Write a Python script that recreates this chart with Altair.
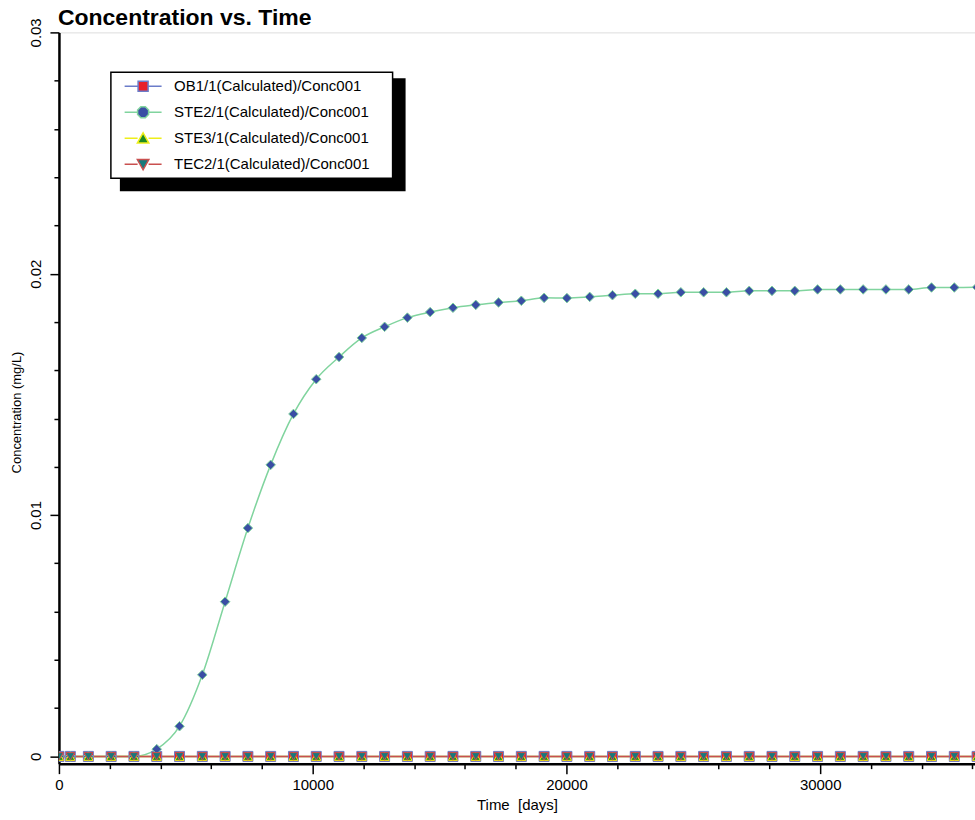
import altair as alt
import pandas as pd

# ---- series definitions -------------------------------------------------
series_names = [
    "OB1/1(Calculated)/Conc001",
    "STE2/1(Calculated)/Conc001",
    "STE3/1(Calculated)/Conc001",
    "TEC2/1(Calculated)/Conc001",
]
line_colors = ["#6b7cc9", "#80d49e", "#eeee1a", "#c9504f"]
marker_fills = ["#e8202a", "#3a4ea4", "#1d8a22", "#17797b"]
marker_shapes = ["square", "diamond", "triangle-up", "triangle-down"]
marker_sizes = [100, 75, 100, 100]

# legend glyphs: short line segment with the series marker in the middle
legend_paths = [
    "M-3.7,0L-1,0M1,0L3.7,0M-1,-1L1,-1L1,1L-1,1Z",
    "M-3.7,0L-1.1,0M1.1,0L3.7,0M-0.45,-1.1L0.45,-1.1L1.1,-0.45L1.1,0.45L0.45,1.1L-0.45,1.1L-1.1,0.45L-1.1,-0.45Z",
    "M-3.7,0L-1.1,0M1.1,0L3.7,0M0,-1.1L1.15,0.95L-1.15,0.95Z",
    "M-3.7,0L-1.1,0M1.1,0L3.7,0M-1.15,-0.95L1.15,-0.95L0,1.1Z",
]

# ---- data (time in days, concentration in mg/L) -------------------------
times = [0, 450, 1160, 2058, 2956, 3854, 4752, 5650, 6548, 7446, 8344, 9242,
         10140, 11038, 11936, 12834, 13732, 14630, 15528, 16426, 17324, 18222,
         19120, 20018, 20916, 21814, 22712, 23610, 24508, 25406, 26304, 27202,
         28100, 28998, 29896, 30794, 31692, 32590, 33488, 34386, 35284, 36182]

ob1 = [0, 0, 0, 0, 0, 0, 0, 0, 0, 0, 0, 0, 0, 0, 0, 0, 0, 0, 0, 0, 0,
       0, 0, 0, 0, 0, 0, 0, 0, 0, 0, 0, 0, 0, 0, 0, 0, 0, 0, 0, 0, 0]

ste2 = [0, 0, 0, 0, 0, 0.0003, 0.00125, 0.00338, 0.00641, 0.00946, 0.01208,
        0.01419, 0.01563, 0.01655, 0.01734, 0.0178, 0.01818, 0.01841, 0.01859,
        0.01871, 0.01881, 0.01888, 0.019, 0.01899, 0.01904, 0.01911, 0.01917,
        0.01917, 0.01923, 0.01923, 0.01923, 0.01929, 0.01929, 0.01929, 0.01935,
        0.01935, 0.01935, 0.01935, 0.01935, 0.01943, 0.01943, 0.01944]

ste3 = [0, 0, 0, 0, 0, 0, 0, 0, 0, 0, 0, 0, 0, 0, 0, 0, 0, 0, 0, 0, 0,
        0, 0, 0, 0, 0, 0, 0, 0, 0, 0, 0, 0, 0, 0, 0, 0, 0, 0, 0, 0, 0]

tec2 = [0, 0, 0, 0, 0, 0, 0, 0, 0, 0, 0, 0, 0, 0, 0, 0, 0, 0, 0, 0, 0,
        0, 0, 0, 0, 0, 0, 0, 0, 0, 0, 0, 0, 0, 0, 0, 0, 0, 0, 0, 0, 0]

x_ticks = [0, 2000, 4000, 6000, 8000, 10000, 12000, 14000, 16000, 18000,
           20000, 22000, 24000, 26000, 28000, 30000, 32000, 34000, 36000]
y_ticks = [0, 0.002, 0.004, 0.006, 0.008, 0.01, 0.012, 0.014, 0.016, 0.018,
           0.02, 0.022, 0.024, 0.026, 0.028, 0.03]

rows = []
for name, vals in zip(series_names, [ob1, ste2, ste3, tec2]):
    for t, v in zip(times, vals):
        rows.append({"t": t, "conc": v, "series": name})
df = pd.DataFrame(rows)
legend_df = pd.DataFrame({"entry": series_names})

FONT = "Liberation Sans"

x_major = "datum.value % 10000 === 0"
y_major = "abs(datum.value * 100 - round(datum.value * 100)) < 1e-6"

x_enc = alt.X(
    "t:Q",
    scale=alt.Scale(domain=[0, 36100], nice=False, zero=False),
    axis=alt.Axis(
        values=x_ticks,
        labelExpr=f"{x_major} ? format(datum.value, 'd') : ''",
        tickSize={"condition": {"test": x_major, "value": 10}, "value": 5},
        tickColor="black", tickWidth=1.5,
        domainColor="black", domainWidth=2.5,
        labelFont=FONT, labelFontSize=15, labelColor="black",
        labelPadding=4, labelFlush=False, labelOverlap=False,
        title="Time\u00a0 [days]", titleFont=FONT, titleFontSize=15,
        titleFontWeight="normal", titleColor="black", titlePadding=5,
        grid=False,
    ),
)
y_enc = alt.Y(
    "conc:Q",
    scale=alt.Scale(domain=[-0.0003, 0.03], nice=False, zero=False),
    axis=alt.Axis(
        values=y_ticks,
        labelExpr=f"{y_major} ? (datum.value === 0 ? '0' : format(datum.value, '.2f')) : ''",
        tickSize={"condition": {"test": y_major, "value": 9}, "value": 5},
        tickColor="black", tickWidth=1.5,
        domainColor="black", domainWidth=2.5,
        labelFont=FONT, labelFontSize=15, labelColor="black",
        labelAngle=270, labelAlign="center", labelBaseline="bottom",
        labelPadding=6, labelFlush=False, labelOverlap=False,
        title="Concentration (mg/L)", titleFont=FONT, titleFontSize=13,
        titleFontWeight="normal", titleColor="black",
        titleAngle=270, titleAlign="center", titleBaseline="middle",
        titleX=-42, titleY=380,
        grid=False,
    ),
)

lines = alt.Chart(df).mark_line(clip=True, strokeWidth=1.5, interpolate="monotone").encode(
    x=x_enc,
    y=y_enc,
    stroke=alt.Stroke("series:N", scale=alt.Scale(domain=series_names, range=line_colors), legend=None),
    order=alt.Order("t:Q"),
)

points = alt.Chart(df).mark_point(clip=True, filled=True, opacity=1, strokeWidth=1).encode(
    x=x_enc,
    y=y_enc,
    fill=alt.Fill("series:N", scale=alt.Scale(domain=series_names, range=marker_fills), legend=None),
    stroke=alt.Stroke("series:N", scale=alt.Scale(domain=series_names, range=line_colors), legend=None),
    shape=alt.Shape("series:N", scale=alt.Scale(domain=series_names, range=marker_shapes), legend=None),
    size=alt.Size("series:N", scale=alt.Scale(domain=series_names, range=marker_sizes), legend=None),
)

# legend frame and drop shadow
shadow = alt.Chart(pd.DataFrame({"k": [0]})).mark_rect(fill="black").encode(
    x=alt.value(61), x2=alt.value(347), y=alt.value(46), y2=alt.value(159)
)
frame = alt.Chart(pd.DataFrame({"k": [0]})).mark_rect(
    fill="white", stroke="black", strokeWidth=1.5
).encode(
    x=alt.value(52), x2=alt.value(334), y=alt.value(40), y2=alt.value(146)
)

legend_spec = alt.Legend(
    title=None, orient="none", legendX=52, legendY=46, padding=0,
    labelFont=FONT, labelFontSize=15, labelColor="black", labelLimit=400,
    symbolSize=100, symbolStrokeWidth=1.5, symbolOffset=24.75, labelOffset=23.5,
    rowPadding=10, clipHeight=16,
)
legend_layer = alt.Chart(legend_df).mark_point(
    clip=True, filled=True, opacity=1, size=100, strokeWidth=1.5
).encode(
    x=alt.value(-200),
    y=alt.value(-200),
    fill=alt.Fill("entry:N", scale=alt.Scale(domain=series_names, range=marker_fills), legend=legend_spec),
    stroke=alt.Stroke("entry:N", scale=alt.Scale(domain=series_names, range=line_colors), legend=legend_spec),
    shape=alt.Shape("entry:N", scale=alt.Scale(domain=series_names, range=legend_paths), legend=legend_spec),
)

chart = alt.layer(lines, points, shadow, frame, legend_layer).resolve_scale(
    fill="independent", stroke="independent", shape="independent", size="independent"
).properties(
    width=917,
    height=732,
    autosize=alt.AutoSizeParams(type="none"),
    padding={"left": 59, "top": 32, "right": 0, "bottom": 56},
    title=alt.TitleParams(
        "Concentration vs. Time", anchor="start", font=FONT, fontSize=23,
        fontWeight="bold", color="black", offset=7, dx=47, dy=37, baseline="alphabetic",
    ),
).configure_view(stroke="#1a1a1a", strokeWidth=1.2).configure(background="white")

chart.save("out.html", embed_options={"renderer": "svg", "actions": False})
